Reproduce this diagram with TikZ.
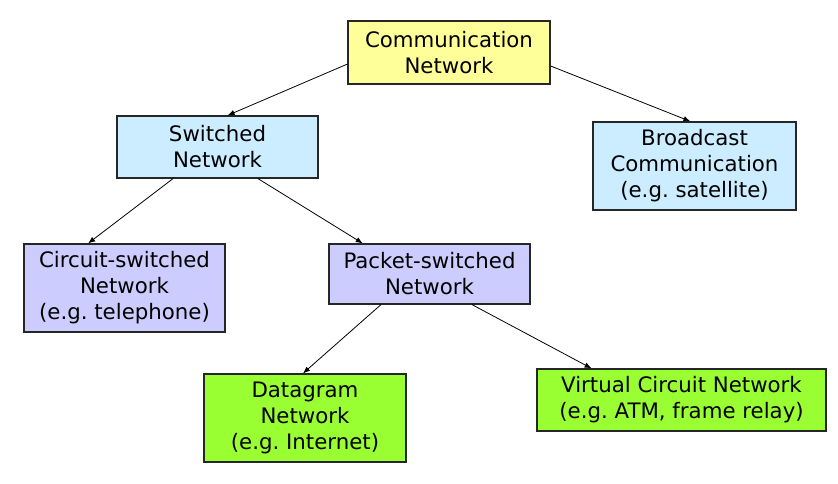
\documentclass[tikz,border=0pt]{standalone}
\usepackage{fontspec}
\setmainfont{DejaVu Sans}
\usetikzlibrary{calc, arrows.meta}

\definecolor{rootyellow}{HTML}{FFFF99}
\definecolor{swblue}{HTML}{CCECFF}
\definecolor{lavender}{HTML}{CCCCFF}
\definecolor{leafgreen}{HTML}{99FF33}
\frenchspacing

\begin{document}
\begin{tikzpicture}[x=1pt, y=-1pt,
  box/.style={draw=black!85, line width=1.2pt, inner sep=0pt, align=center,
    font=\fontsize{21.3}{26}\selectfont},
  link/.style={line width=0.8pt, -{Latex[length=7pt, width=5.5pt]}}]
  \useasboundingbox (0,0) rectangle (838,484);

  \node[box, fill=rootyellow, minimum width=202pt, minimum height=63pt]
    (comm) at (449, 52.5) {Communication\\Network};
  \node[box, fill=swblue, minimum width=201pt, minimum height=62pt]
    (sw) at (217.5, 147) {Switched\\Network};
  \node[box, fill=swblue, minimum width=203pt, minimum height=88pt]
    (bc) at (694.5, 166) {Broadcast\\Communication\\(e.g. satellite)};
  \node[box, fill=lavender, minimum width=201pt, minimum height=88pt]
    (cs) at (124.5, 288) {Circuit-switched\\Network\\(e.g. telephone)};
  \node[box, fill=lavender, minimum width=201pt, minimum height=60pt]
    (ps) at (429.5, 274) {Packet-switched\\Network};
  \node[box, fill=leafgreen, minimum width=202pt, minimum height=88pt]
    (dg) at (305, 418) {Datagram\\Network\\(e.g. Internet)};
  \node[box, fill=leafgreen, minimum width=289pt, minimum height=62pt]
    (vc) at (681.5, 400) {Virtual Circuit Network\\(e.g. ATM, frame relay)};

  % Baumkanten
  \draw[link] ($(comm.north west)!0.68!(comm.south west)$) -- ($(sw.north west)!0.55!(sw.north east)$);
  \draw[link] ($(comm.north east)!0.71!(comm.south east)$) -- ($(bc.north west)!0.48!(bc.north east)$);
  \draw[link] ($(sw.south west)!0.28!(sw.south east)$) -- ($(cs.north west)!0.32!(cs.north east)$);
  \draw[link] ($(sw.south west)!0.70!(sw.south east)$) -- ($(ps.north west)!0.17!(ps.north east)$);
  \draw[link] ($(ps.south west)!0.26!(ps.south east)$) -- ($(dg.north west)!0.49!(dg.north east)$);
  \draw[link] ($(ps.south west)!0.71!(ps.south east)$) -- ($(vc.north west)!0.19!(vc.north east)$);
\end{tikzpicture}
\end{document}
